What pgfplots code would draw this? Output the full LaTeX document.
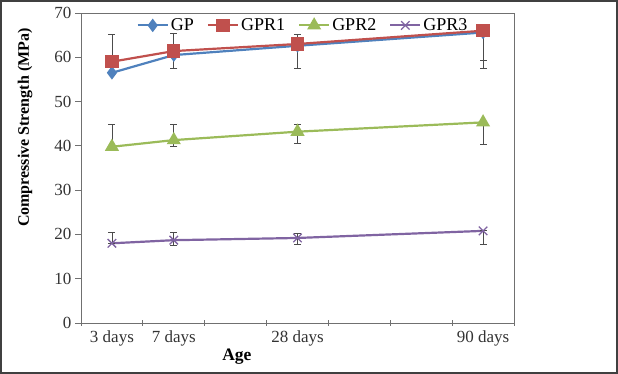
\documentclass[border=0pt]{standalone}
\usepackage{fontspec}
\setmainfont{Liberation Serif}
\usepackage{pgfplots}
\pgfplotsset{compat=1.18}
\definecolor{cGP}{HTML}{4F81BD}
\definecolor{cR1}{HTML}{C0504D}
\definecolor{cR2}{HTML}{9BBB59}
\definecolor{cR3}{HTML}{8064A2}
\definecolor{axgray}{HTML}{707070}
\begin{document}
\begin{tikzpicture}
\useasboundingbox (0,0) rectangle (618pt,374pt);
\draw[line width=2pt, black!75] (1pt,1pt) rectangle (617pt,373pt);
\begin{axis}[
  at={(81pt,51pt)}, anchor=south west,
  scale only axis, width=433pt, height=310pt,
  xmin=0, xmax=7, ymin=0, ymax=70,
  axis line style={axgray, line width=0.9pt},
  xtick={0,1,...,7}, xticklabels={},
  extra x ticks={0.5,1.5,3.5,6.5},
  extra x tick labels={3 days,7 days,28 days,90 days},
  extra x tick style={major tick length=0pt, tick label style={yshift=-4pt}},
  ytick={0,10,...,70},
  x tick style={axgray, line width=0.8pt}, y tick style={axgray, line width=0.8pt},
  xtick align=center, ytick align=outside, major tick length=6pt,
  tick pos=left,
  /pgf/number format/assume math mode=true,
  tick label style={font=\fontsize{17}{20}\selectfont, text=black!80},
  xlabel={\textbf{Age}},
  xlabel style={at={(axis description cs:0.36,-0.11)}, anchor=center, font=\fontsize{17.5}{20}\selectfont},
  ylabel={\textbf{Compressive Strength (MPa)}},
  ylabel style={at={(axis description cs:-0.129,0.63)}, anchor=center, rotate=0, font=\fontsize{16}{19}\selectfont},
  legend columns=4,
  legend style={at={(axis description cs:0.128,0.96)}, anchor=west, draw=none, fill=none,
    inner sep=0pt, font=\fontsize{18}{20}\selectfont,
    /tikz/every even column/.append style={column sep=11pt}},
  legend image code/.code={\draw[mark repeat=2,mark phase=2] plot coordinates {(0pt,0pt) (15pt,0pt) (30pt,0pt)};},
  error bars/error bar style={black!70, line width=0.8pt},
  error bars/error mark options={rotate=90, mark size=3.5pt, black!70, line width=0.8pt},
]
\addplot[cGP, line width=2.2pt, mark=diamond*, mark size=5pt, mark options={solid},
  error bars/.cd, y dir=both, y explicit]
  coordinates {(0.5,56.5) +- (0,0) (1.5,60.5) += (0,5.0) -= (0,2.9) (3.5,62.6) +- (0,0) (6.5,65.6) += (0,0) -= (0,6.2)};
\addlegendentry{GP}
\addplot[cR1, line width=2.2pt, mark=square*, mark size=5.5pt, mark options={solid},
  error bars/.cd, y dir=both, y explicit]
  coordinates {(0.5,59.0) += (0,6.2) -= (0,0) (1.5,61.4) +- (0,0) (3.5,63.0) += (0,2.2) -= (0,5.4) (6.5,66.0) += (0,0) -= (0,8.4)};
\addlegendentry{GPR1}
\addplot[cR2, line width=2.2pt, mark=triangle*, mark size=6pt, mark options={solid},
  error bars/.cd, y dir=both, y explicit]
  coordinates {(0.5,39.8) += (0,5.0) -= (0,0) (1.5,41.3) += (0,3.5) -= (0,1.5) (3.5,43.2) += (0,1.6) -= (0,2.6) (6.5,45.3) += (0,0) -= (0,5.0)};
\addlegendentry{GPR2}
\addplot[cR3, line width=2.2pt, mark=x, mark size=6pt, mark options={solid, line width=1.3pt},
  error bars/.cd, y dir=both, y explicit]
  coordinates {(0.5,18.0) += (0,2.5) -= (0,0) (1.5,18.7) += (0,1.8) -= (0,1.1) (3.5,19.2) += (0,1.1) -= (0,1.4) (6.5,20.8) += (0,0) -= (0,3.0)};
\addlegendentry{GPR3}
\draw[axgray, line width=0.8pt] (rel axis cs:0,1) -- (rel axis cs:1,1) -- (rel axis cs:1,0);
\end{axis}
\end{tikzpicture}
\end{document}
